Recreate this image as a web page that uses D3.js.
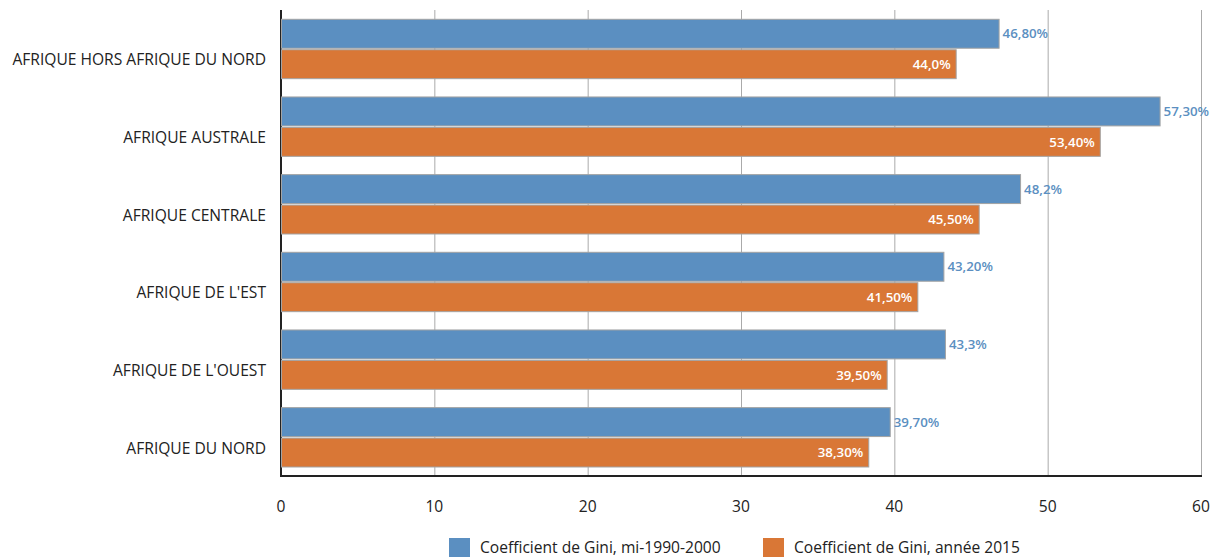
<!DOCTYPE html>
<html>
<head>
<meta charset="utf-8">
<script src="https://cdn.jsdelivr.net/npm/d3@7"></script>
<style>
  html, body { margin: 0; padding: 0; background: #fff; }
  svg { display: block; }
  text { font-family: "Open Sans", "Noto Sans", sans-serif; }
</style>
</head>
<body>
<svg id="chart" width="1214" height="557"></svg>
<script>
// Régions
const regions = [
  "AFRIQUE HORS AFRIQUE DU NORD",
  "AFRIQUE AUSTRALE",
  "AFRIQUE CENTRALE",
  "AFRIQUE DE L'EST",
  "AFRIQUE DE L'OUEST",
  "AFRIQUE DU NORD"
];
// Coefficient de Gini, mi-1990-2000
const gini1990 = [46.8, 57.3, 48.2, 43.2, 43.3, 39.7];
const labels1990 = ["46,80%", "57,30%", "48,2%", "43,20%", "43,3%", "39,70%"];
// Coefficient de Gini, année 2015
const gini2015 = [44.0, 53.4, 45.5, 41.5, 39.5, 38.3];
const labels2015 = ["44,0%", "53,40%", "45,50%", "41,50%", "39,50%", "38,30%"];
const seriesNames = ["Coefficient de Gini, mi-1990-2000", "Coefficient de Gini, année 2015"];
const xTicks = [0, 10, 20, 30, 40, 50, 60];

const colors = ["#5b8fc1", "#d97736"];
const plotLeft = 281, plotRight = 1201, plotTop = 10, plotBottom = 476;

const svg = d3.select("#chart");

const x = d3.scaleLinear().domain([0, 60]).range([plotLeft, plotRight]);
const y = d3.scaleBand().domain(regions).range([plotTop, plotBottom]).paddingInner(0).paddingOuter(0);
const sub = d3.scaleBand().domain([0, 1]).range([9.3, y.bandwidth() - 9]).paddingInner(0.05);

// Vertical grid lines
svg.append("g")
  .selectAll("line")
  .data(xTicks.slice(1))
  .join("line")
  .attr("x1", d => x(d) + 0.5).attr("x2", d => x(d) + 0.5)
  .attr("y1", plotTop).attr("y2", plotBottom)
  .attr("stroke", "#aaaaaa").attr("stroke-width", 1);

// Axis lines
svg.append("line")
  .attr("x1", plotLeft).attr("x2", plotLeft).attr("y1", plotTop).attr("y2", plotBottom + 1)
  .attr("stroke", "#222").attr("stroke-width", 2);
svg.append("line")
  .attr("x1", plotLeft).attr("x2", plotRight + 1).attr("y1", plotBottom).attr("y2", plotBottom)
  .attr("stroke", "#222").attr("stroke-width", 2);

// Bars
const series = [
  { values: gini1990, labels: labels1990 },
  { values: gini2015, labels: labels2015 }
];

series.forEach((s, si) => {
  const g = svg.append("g");
  g.selectAll("rect")
    .data(regions)
    .join("rect")
    .attr("x", x(0) + 0.5)
    .attr("y", (d) => y(d) + sub(si))
    .attr("width", (d, i) => x(s.values[i]) - x(0))
    .attr("height", sub.bandwidth())
    .attr("fill", colors[si])
    .attr("stroke", "#a3a3a3")
    .attr("stroke-width", 1);

  g.selectAll("text")
    .data(regions)
    .join("text")
    .attr("x", (d, i) => si === 0 ? x(s.values[i]) + 4 : x(s.values[i]) - 5)
    .attr("y", d => y(d) + sub(si) + sub.bandwidth() / 2)
    .attr("dy", "0.35em")
    .attr("text-anchor", si === 0 ? "start" : "end")
    .attr("font-size", 13.3)
    .attr("font-weight", 600)
    .attr("fill", si === 0 ? colors[0] : "#ffffff")
    .text((d, i) => s.labels[i]);
});

// Category labels
svg.append("g")
  .selectAll("text")
  .data(regions)
  .join("text")
  .attr("x", 266)
  .attr("y", d => y(d) + y.bandwidth() / 2 + 11)
  .attr("dy", "0.35em")
  .attr("text-anchor", "end")
  .attr("font-size", 15.6)
  .attr("fill", "#222")
  .text(d => d);

// X tick labels
svg.append("g")
  .selectAll("text")
  .data(xTicks)
  .join("text")
  .attr("x", d => x(d))
  .attr("y", 507)
  .attr("dy", "0.35em")
  .attr("text-anchor", "middle")
  .attr("font-size", 15.6)
  .attr("fill", "#222")
  .text(d => d);

// Legend
const legendX = [449, 763];
seriesNames.forEach((name, i) => {
  svg.append("rect")
    .attr("x", legendX[i]).attr("y", 538)
    .attr("width", 21).attr("height", 21)
    .attr("fill", colors[i]);
  svg.append("text")
    .attr("x", legendX[i] + 31).attr("y", 548)
    .attr("dy", "0.35em")
    .attr("font-size", 15.6)
    .attr("fill", "#222")
    .text(name);
});
</script>
</body>
</html>
